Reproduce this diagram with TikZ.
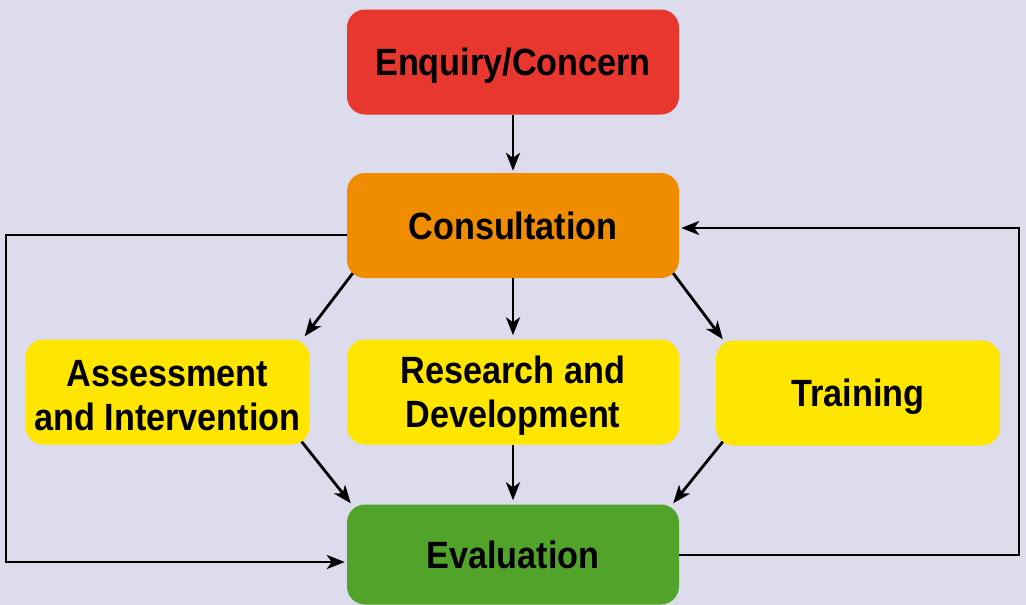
\documentclass[tikz,border=0pt]{standalone}
\usepackage{fontspec}
\setmainfont{Liberation Sans}
\newfontfamily\boxfont[FakeStretch=0.9]{Liberation Sans}
\usetikzlibrary{arrows.meta,calc}
\definecolor{bgc}{HTML}{DCDCEC}
\definecolor{redc}{HTML}{E8372F}
\definecolor{orangec}{HTML}{F08C00}
\definecolor{yellowc}{HTML}{FFE600}
\definecolor{greenc}{HTML}{52A32A}
\tikzset{
  box/.style={rectangle, rounded corners=18pt, inner sep=0pt, align=center,
    font=\boxfont\bfseries\fontsize{38}{44}\selectfont, text=black},
  wide/.style={minimum width=332pt, minimum height=105pt},
  side/.style={minimum width=284pt, minimum height=105pt},
  one/.style={text height=27pt, text depth=0pt},
  conn/.style={line width=2.8pt, draw=black, -{Stealth[length=18pt,width=14pt,inset=5pt]}},
}
\newcommand{\topstrut}{\rule{0pt}{34pt}}
\begin{document}
\begin{tikzpicture}[x=1pt,y=-1pt]
\useasboundingbox (0,0) rectangle (1026,605);
\fill[bgc] (0,0) rectangle (1026,605);
\node[box,wide,one,fill=redc] (enq) at (513,62) {Enquiry/Concern};
\node[box,wide,one,fill=orangec] (cons) at (513,225.5) {Consultation};
\node[box,side,fill=yellowc] (ass) at (167.5,392) {\topstrut Assessment\\and Intervention};
\node[box,wide,fill=yellowc] (res) at (513,392) {\topstrut Research and\\Development};
\node[box,side,one,fill=yellowc] (tra) at (858,393) {Training};
\node[box,wide,one,fill=greenc,minimum height=100pt] (eva) at (513,554.5) {Evaluation};

\draw[conn] (enq.south) -- ([yshift=2pt]cons.north);
\draw[conn] (cons.south) -- ([yshift=4pt]res.north);
\draw[conn] (res.south) -- ([yshift=4pt]eva.north);
\draw[conn] ([xshift=6pt,yshift=5pt]cons.south west) -- ([xshift=-5pt,yshift=3pt]ass.north east);
\draw[conn] ([xshift=-8pt,yshift=3pt]ass.south east) -- ([xshift=4pt,yshift=1pt]eva.north west);
\draw[conn] ([xshift=-6pt,yshift=5pt]cons.south east) -- ([xshift=7pt,yshift=1pt]tra.north west);
\draw[conn] ([xshift=7pt,yshift=4pt]tra.south west) -- ([xshift=-6pt,yshift=1pt]eva.north east);

\coordinate (l1) at (6,235);
\coordinate (l2) at (6,562);
\coordinate (r1) at (1019,555);
\coordinate (r2) at (1019,228);
\draw[conn] (cons.west |- l1) -- (l1) -- (l2) -- ([xshift=-2pt]eva.west |- l2);
\draw[conn] (eva.east |- r1) -- (r1) -- (r2) -- ([xshift=2pt]cons.east |- r2);
\end{tikzpicture}
\end{document}
